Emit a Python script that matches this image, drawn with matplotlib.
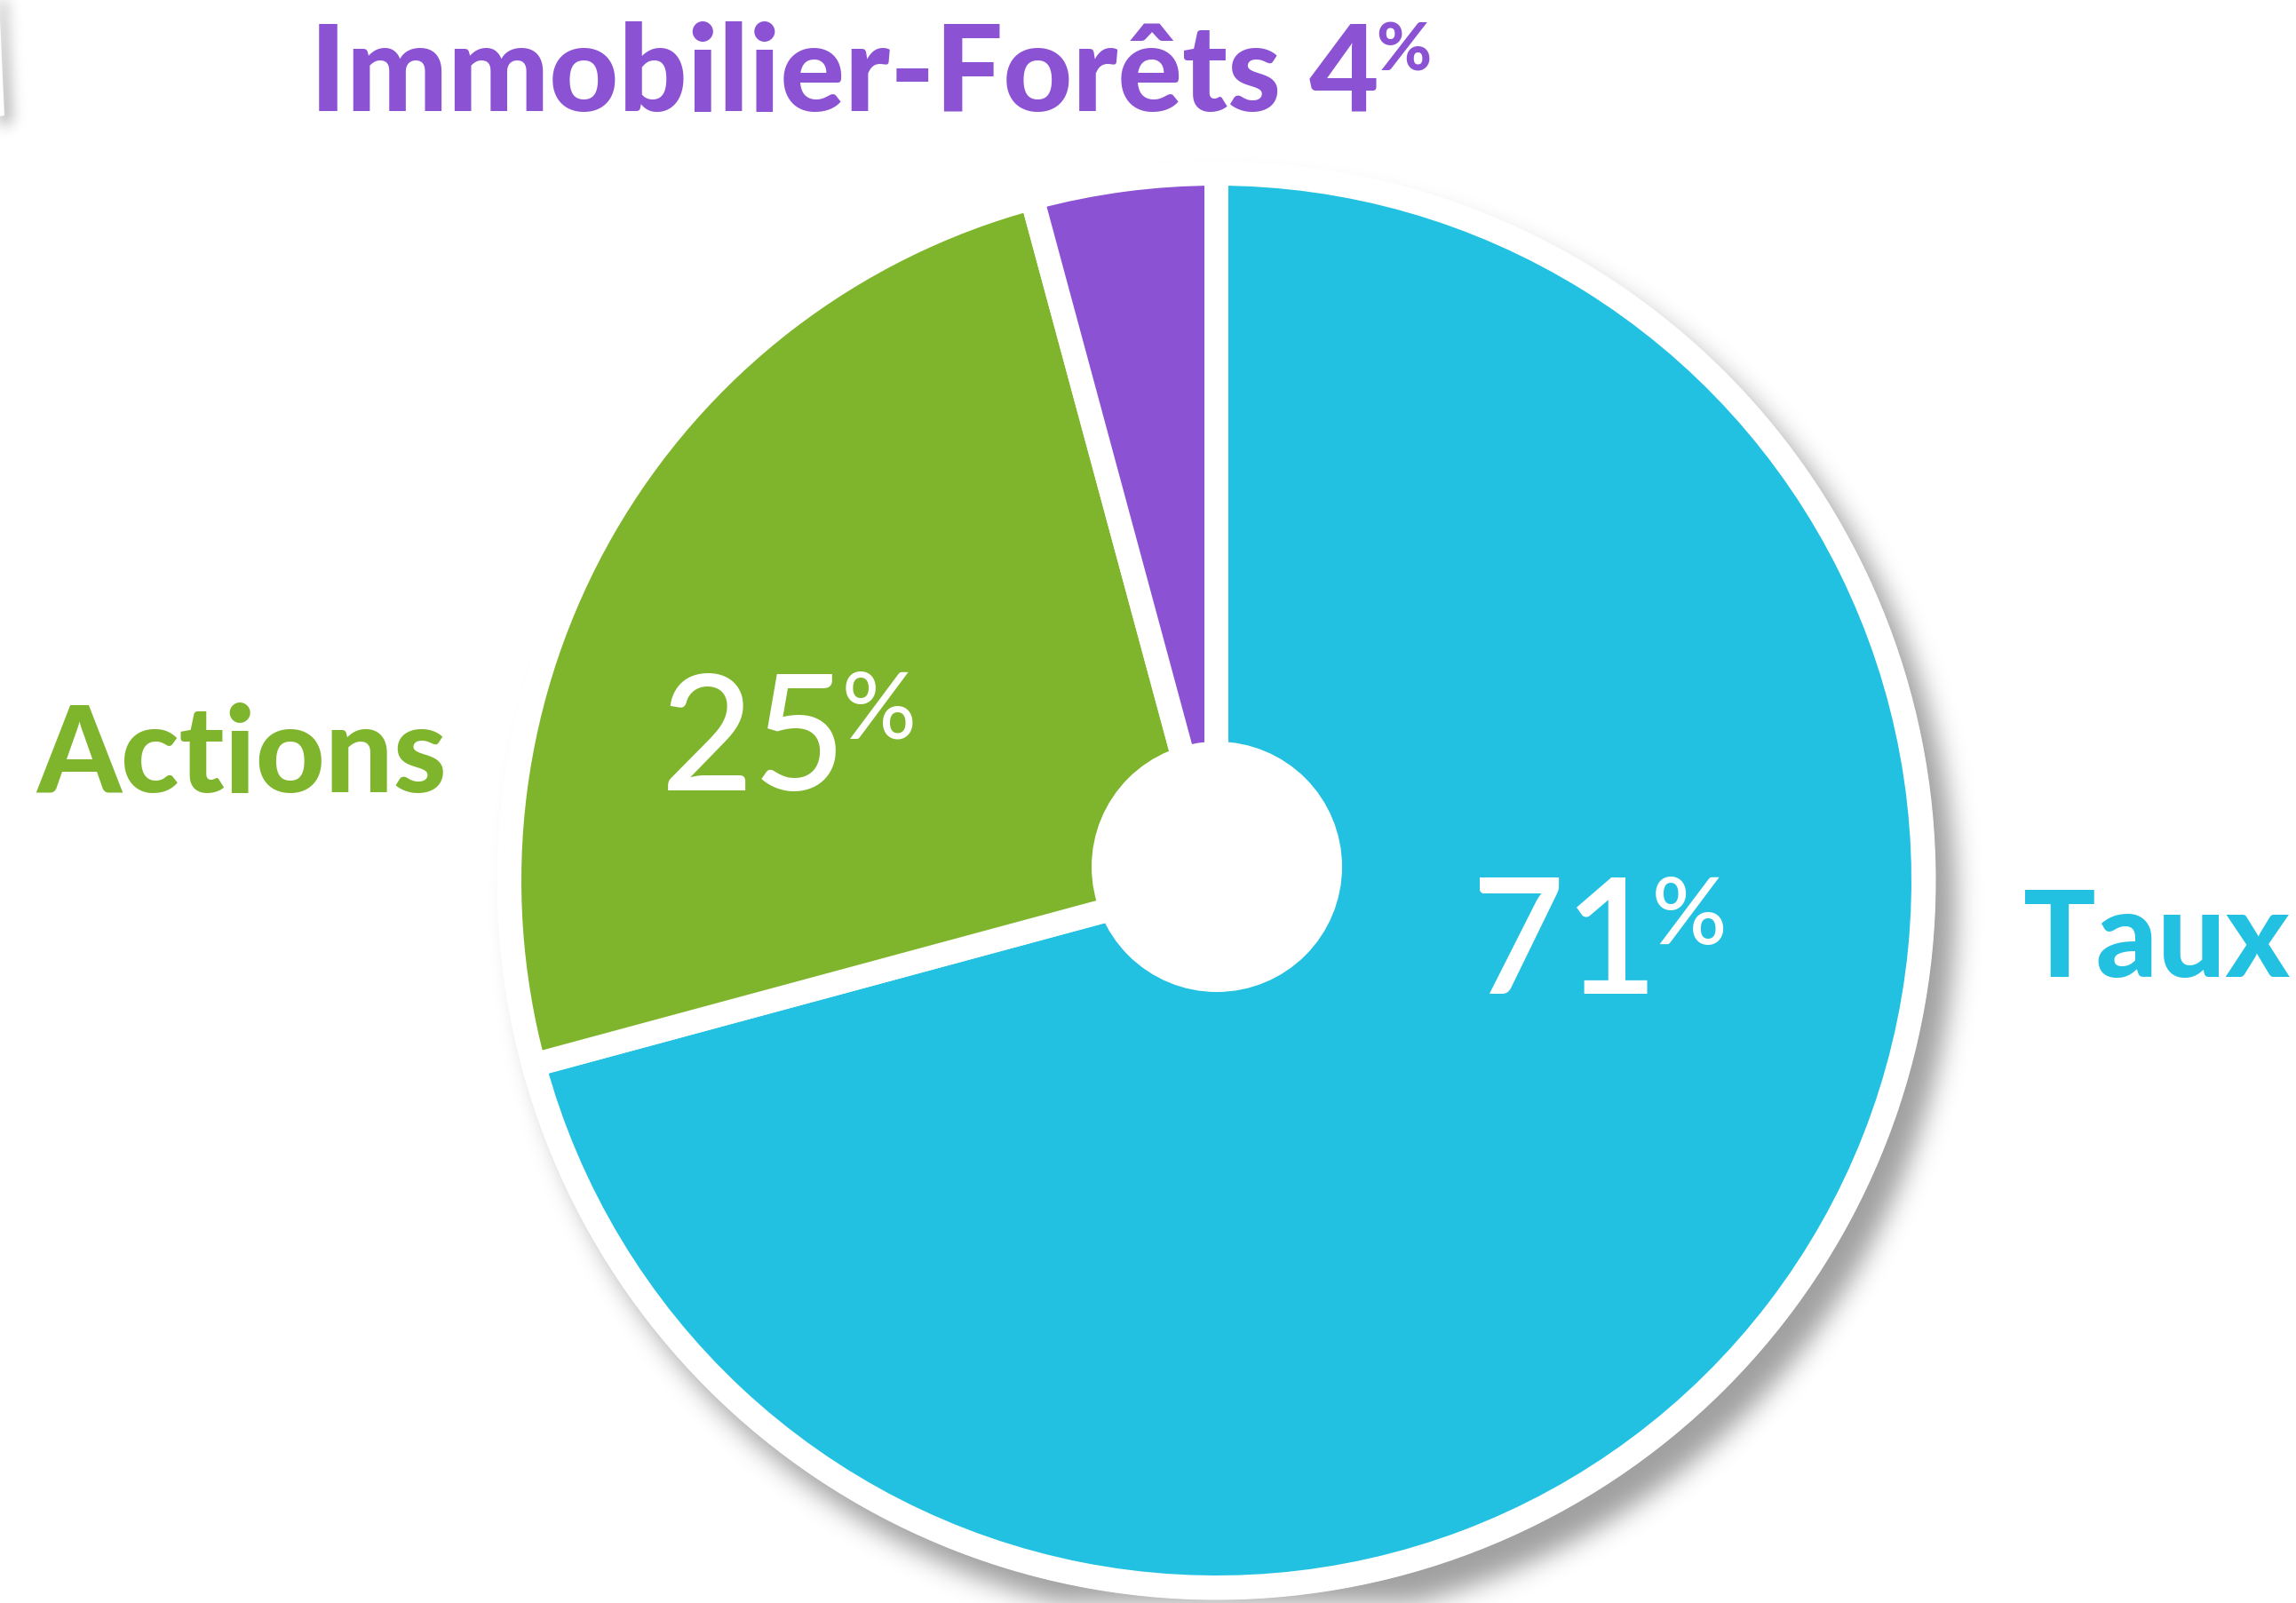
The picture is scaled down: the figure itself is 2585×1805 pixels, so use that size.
import numpy as np
import matplotlib
matplotlib.use("Agg")
import matplotlib.pyplot as plt
from matplotlib.patches import Circle, Polygon
from matplotlib.path import Path

# ---------------- data ----------------
categories = ["Taux", "Actions", "Immobilier-Forêts"]
values = [70.8, 25.0, 4.2]          # slice sizes
labels_pct = [71, 25, 4]            # printed (rounded) percentages
colors = ["#22C1E1", "#7FB52C", "#8B52D3"]

# ---------------- figure ----------------
W, H = 2585, 1805
DPI = 100
fig = plt.figure(figsize=(W / DPI, H / DPI), dpi=DPI)
fig.patch.set_facecolor("white")
ax = fig.add_axes([0, 0, 1, 1])

cx, cy = 1369.5, H - 991.5       # pie centre (y up)
R_vis = 782.5                    # visible wedge radius
gap_px = 27.0                    # white gap between wedges
R_ring = 810.0                   # white backing disc radius
hole_c = (1370.0, H - 976.0)
hole_r = 141.0


def gaussian_blur(img, sigma, pad=120):
    p = np.pad(img, pad)
    fy = np.fft.fftfreq(p.shape[0])[:, None]
    fx = np.fft.rfftfreq(p.shape[1])[None, :]
    k = np.exp(-2 * (np.pi ** 2) * sigma ** 2 * (fx ** 2 + fy ** 2))
    out = np.fft.irfft2(np.fft.rfft2(p) * k, s=p.shape)
    return out[pad:-pad, pad:-pad]


# ---- drop shadows (image rows top-down) ----
yy, xx = np.mgrid[0:H, 0:W].astype(float)
sdx, sdy = 22.0, 28.0
disk = ((xx - (cx + sdx)) ** 2 + ((H - cy) + sdy - yy) ** 2 <= R_ring ** 2).astype(float)
shadow = gaussian_blur(disk, 14)

# small cropped white shape in the top-left corner
corner_poly = np.array([(-60, -60), (-1, -60), (-1, 0), (5, 130), (-60, 142)])
cp = Path(corner_poly + np.array([7, 8]))
inside = cp.contains_points(np.c_[xx.ravel(), yy.ravel()]).reshape(H, W).astype(float)
shadow = np.maximum(shadow, gaussian_blur(inside, 8))

rgba = np.zeros((H, W, 4))
rgba[..., 3] = np.clip(shadow, 0, 1) * 0.375
ax.imshow(rgba, extent=(0, W, 0, H), origin="upper", zorder=0, interpolation="nearest")

# white shape top-left
ax.add_patch(Polygon([(x, H - y) for x, y in corner_poly], closed=True,
                     facecolor="white", edgecolor="none", zorder=1))

# white backing disc
ax.add_patch(Circle((cx, cy), R_ring, facecolor="white", edgecolor="none", zorder=1))

# ---- pie ----
lw_pt = gap_px * 72.0 / DPI
wedges, _ = ax.pie(values, colors=colors, startangle=90, counterclock=False,
                   radius=R_vis + gap_px / 2, center=(cx, cy),
                   wedgeprops=dict(edgecolor="white", linewidth=lw_pt,
                                   joinstyle="round", zorder=2))
for w in wedges:
    w.set_zorder(2)

# centre hole
ax.add_patch(Circle(hole_c, hole_r, facecolor="white", edgecolor="none", zorder=3))

# ---- text ----
fam = ["Lato", "DejaVu Sans"]
lab_size = 97.5
ax.text(349, H - 125, f"{categories[2]} {labels_pct[2]}", color=colors[2],
        fontsize=lab_size, fontweight="black", family=fam, ha="left",
        va="baseline", zorder=5)
ax.text(1549, H - 79, "%", color=colors[2], fontsize=54,
        fontweight="black", family=fam, ha="left", va="baseline", zorder=5)
ax.text(41, H - 892, categories[1], color=colors[1], fontsize=lab_size,
        fontweight="black", family=fam, ha="left", va="baseline", zorder=5)
ax.text(2428, H - 1100, categories[0], color=colors[0], fontsize=lab_size,
        fontweight="black", family=fam, ha="center", va="baseline", zorder=5)

num_size = 130
pct_size = 75
# Actions value
ax.text(744, H - 890, f"{labels_pct[1]}", color="white", fontsize=num_size,
        fontweight="medium", family=fam, ha="left", va="baseline", zorder=5)
ax.text(948, H - 832, "%", color="white", fontsize=pct_size,
        fontweight="medium", family=fam, ha="left", va="baseline", zorder=5)
# Taux value
ax.text(1657, H - 1119, f"{labels_pct[0]}", color="white", fontsize=num_size,
        fontweight="semibold", family=fam, ha="left", va="baseline", zorder=5)
ax.text(1860, H - 1063, "%", color="white", fontsize=pct_size,
        fontweight="semibold", family=fam, ha="left", va="baseline", zorder=5)

ax.set_xlim(0, W)
ax.set_ylim(0, H)
ax.set_aspect("equal")
ax.axis("off")

fig.savefig("out.png", dpi=DPI, facecolor="white")
